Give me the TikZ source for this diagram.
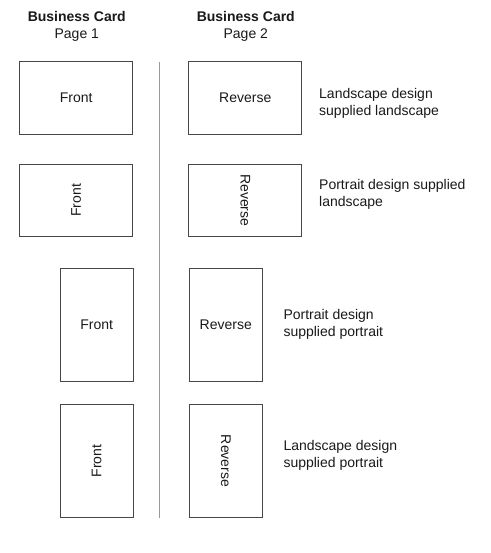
\documentclass[tikz,border=0pt]{standalone}
\usepackage{fontspec}
\setmainfont{Liberation Sans}
\begin{document}
\begin{tikzpicture}[x=1pt,y=-1pt,
  txt/.style={font=\fontsize{14}{17}\selectfont, text=black!90},
  card/.style={draw=black!72, line width=0.9pt, inner sep=0pt, txt},
  land/.style={card, minimum width=113pt, minimum height=72.5pt},
  port/.style={card, minimum width=73pt, minimum height=113.5pt},
  lbl/.style={txt, anchor=west, align=left, inner sep=0pt},
  hdr/.style={txt, align=center, inner sep=0pt},
  divider/.style={draw=black!40, line width=1pt}]
\useasboundingbox (0,0) rectangle (490,553);
% headers
\node[hdr] (h1) at (76.8,26) {\textbf{Business Card}\\Page 1};
\node[hdr] (h2) at (245.8,26) {\textbf{Business Card}\\Page 2};
% divider
\coordinate (vtop) at (159.5,62);
\coordinate (vbot) at (159.5,518);
\draw[divider] (vtop) -- (vbot);
% row 1
\node[land] (f1) at (76.2,98) {Front};
\node[land] (r1) at (245.3,98) {Reverse};
\node[lbl] (l1) at (319,103) {Landscape design\\supplied landscape};
% row 2
\node[land] (f2) at (76.2,200.3) {};
\node[txt, rotate=90] (f2t) at (f2.center) {Front};
\node[land] (r2) at (245.3,200.3) {};
\node[txt, rotate=-90] (r2t) at (r2.center) {Reverse};
\node[lbl] (l2) at (319,194.5) {Portrait design supplied\\landscape};
% row 3
\node[port] (f3) at (96.7,325) {Front};
\node[port] (r3) at (225.8,325) {Reverse};
\node[lbl] (l3) at (283.3,324.5) {Portrait design\\supplied portrait};
% row 4
\node[port] (f4) at (96.7,461) {};
\node[txt, rotate=90] (f4t) at (f4.center) {Front};
\node[port] (r4) at (225.8,461) {};
\node[txt, rotate=-90] (r4t) at (r4.center) {Reverse};
\node[lbl] (l4) at (283.3,455.5) {Landscape design\\supplied portrait};
\end{tikzpicture}
\end{document}
